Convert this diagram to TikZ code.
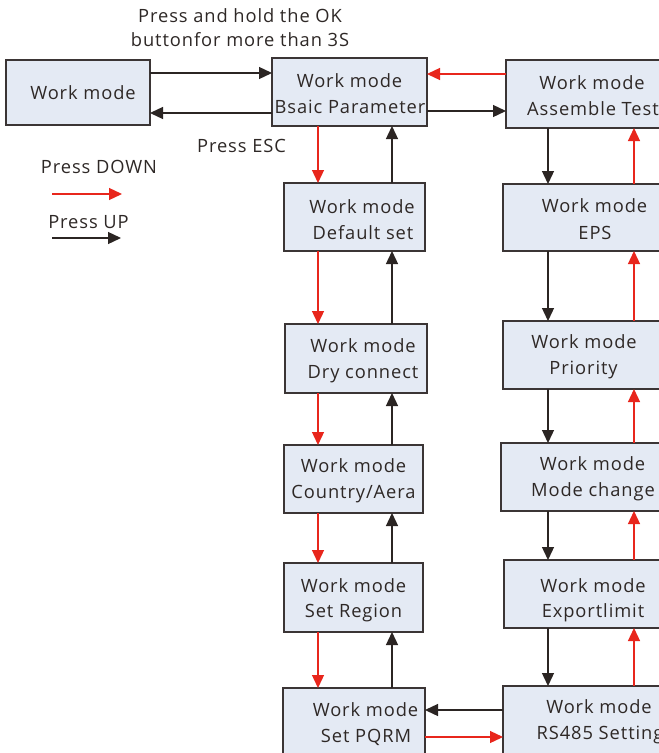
\documentclass[tikz,border=0pt]{standalone}
\usepackage{fontspec}
\setmainfont{Open Sans}[LetterSpace=5]
\usetikzlibrary{arrows.meta}
\definecolor{boxfill}{HTML}{E4EAF4}
\definecolor{boxline}{HTML}{3B3535}
\definecolor{txt}{HTML}{2E2826}
\definecolor{myred}{HTML}{E8261C}
\definecolor{myblack}{HTML}{2B2523}
\tikzset{
  box/.style={draw=boxline, fill=boxfill, line width=1.3pt, inner sep=0pt, outer sep=0pt},
  lbl/.style={text=txt, font=\fontsize{18.3}{22}\selectfont, inner sep=0pt, anchor=base},
  dn/.style={draw=myred, line width=1.3pt, -{Triangle[length=13pt,width=12pt]}},
  up/.style={draw=myblack, line width=1.3pt, -{Triangle[length=13pt,width=12pt]}},
}
\begin{document}
\begin{tikzpicture}[x=1pt,y=-1pt]
\clip (0,0) rectangle (659,753);
\fill[white] (0,0) rectangle (659,753);
% boxes
\node[box, minimum width=144pt, minimum height=65pt] (wm) at (78,92.5) {};
\node[box, minimum width=155pt, minimum height=68pt] (bp) at (349.5,92) {};
\node[box, minimum width=174pt, minimum height=68pt] (at) at (593,94) {};
\node[box, minimum width=141pt, minimum height=68pt] (ds) at (354.5,217) {};
\node[box, minimum width=183pt, minimum height=67pt] (eps) at (594.5,217.5) {};
\node[box, minimum width=142pt, minimum height=69pt] (dc) at (356,358.5) {};
\node[box, minimum width=164pt, minimum height=68pt] (pr) at (585,355) {};
\node[box, minimum width=139pt, minimum height=68pt] (ca) at (353.5,479) {};
\node[box, minimum width=183pt, minimum height=68pt] (mc) at (592.5,477) {};
\node[box, minimum width=139pt, minimum height=69pt] (sr) at (353.5,597.5) {};
\node[box, minimum width=178pt, minimum height=68pt] (el) at (593,594) {};
\node[box, minimum width=142pt, minimum height=68pt] (pq) at (354,722) {};
\node[box, minimum width=192pt, minimum height=68pt] (rs) at (599,720) {};
% box texts
\node[lbl] (t-wm) at (83,99) {Work mode};
\node[lbl] (t-bp1) at (349.5,87) {Work mode};
\node[lbl] (t-bp2) at (350,113) {Bsaic Parameter};
\node[lbl] (t-at1) at (592,89) {Work mode};
\node[lbl] (t-at2) at (593,115) {Assemble Test};
\node[lbl] (t-ds1) at (362,213) {Work mode};
\node[lbl] (t-ds2) at (363,239) {Default set};
\node[lbl] (t-eps1) at (594.5,212) {Work mode};
\node[lbl] (t-eps2) at (595,239) {EPS};
\node[lbl] (t-dc1) at (363,352) {Work mode};
\node[lbl] (t-dc2) at (363,378) {Dry connect};
\node[lbl] (t-pr1) at (584,348) {Work mode};
\node[lbl] (t-pr2) at (583.5,374) {Priority};
\node[lbl] (t-ca1) at (353.5,472) {Work mode};
\node[lbl] (t-ca2) at (353.5,498) {Country/Aera};
\node[lbl] (t-mc1) at (592.5,470) {Work mode};
\node[lbl] (t-mc2) at (593,496) {Mode change};
\node[lbl] (t-sr1) at (353.5,592) {Work mode};
\node[lbl] (t-sr2) at (353.5,617) {Set Region};
\node[lbl] (t-el1) at (593,592) {Work mode};
\node[lbl] (t-el2) at (593,617) {Exportlimit};
\node[lbl] (t-pq1) at (365.5,716) {Work mode};
\node[lbl] (t-pq2) at (366,742) {Set PQRM};
\node[lbl] (t-rs1) at (599,713) {Work mode};
\node[lbl] (t-rs2) at (600,739) {RS485 Setting};
% free texts
\node[lbl] (hold1) at (240,22) {Press and hold the OK};
\node[lbl] (hold2) at (240,46) {buttonfor more than 3S};
\node[lbl] (esc) at (241.5,152) {Press ESC};
\node[lbl] (pdown) at (99,173) {Press DOWN};
\node[lbl] (pup) at (88.5,228) {Press UP};
% helper coordinates
\coordinate (xL) at (318,0);
\coordinate (xLu) at (392,0);
\coordinate (xR) at (548,0);
\coordinate (xRu) at (634,0);
\coordinate (y1) at (0,73);
\coordinate (y2) at (0,113);
\coordinate (y3) at (0,74);
\coordinate (y4) at (0,111);
\coordinate (y5) at (0,710);
\coordinate (y6) at (0,737);
\coordinate (lgA) at (52,194);
\coordinate (lgB) at (122,194);
\coordinate (lgC) at (52,238);
\coordinate (lgD) at (121,238);
% top connectors
\draw[up] (wm.east |- y1) -- (bp.west |- y1);
\draw[up] (bp.west |- y2) -- (wm.east |- y2);
\draw[dn] (at.west |- y3) -- (bp.east |- y3);
\draw[up] (bp.east |- y4) -- (at.west |- y4);
% left column
\draw[dn] (bp.south -| xL) -- (ds.north -| xL);
\draw[dn] (ds.south -| xL) -- (dc.north -| xL);
\draw[dn] (dc.south -| xL) -- (ca.north -| xL);
\draw[dn] (ca.south -| xL) -- (sr.north -| xL);
\draw[dn] (sr.south -| xL) -- (pq.north -| xL);
\draw[up] (ds.north -| xLu) -- (bp.south -| xLu);
\draw[up] (dc.north -| xLu) -- (ds.south -| xLu);
\draw[up] (ca.north -| xLu) -- (dc.south -| xLu);
\draw[up] (sr.north -| xLu) -- (ca.south -| xLu);
\draw[up] (pq.north -| xLu) -- (sr.south -| xLu);
% right column
\draw[up] (at.south -| xR) -- (eps.north -| xR);
\draw[up] (eps.south -| xR) -- (pr.north -| xR);
\draw[up] (pr.south -| xR) -- (mc.north -| xR);
\draw[up] (mc.south -| xR) -- (el.north -| xR);
\draw[up] (el.south -| xR) -- (rs.north -| xR);
\draw[dn] (eps.north -| xRu) -- (at.south -| xRu);
\draw[dn] (pr.north -| xRu) -- (eps.south -| xRu);
\draw[dn] (mc.north -| xRu) -- (pr.south -| xRu);
\draw[dn] (el.north -| xRu) -- (mc.south -| xRu);
\draw[dn] (rs.north -| xRu) -- (el.south -| xRu);
% bottom connectors
\draw[up] (rs.west |- y5) -- (pq.east |- y5);
\draw[dn] (pq.east |- y6) -- (rs.west |- y6);
% legend
\draw[dn] (lgA) -- (lgB);
\draw[up] (lgC) -- (lgD);
\end{tikzpicture}
\end{document}
